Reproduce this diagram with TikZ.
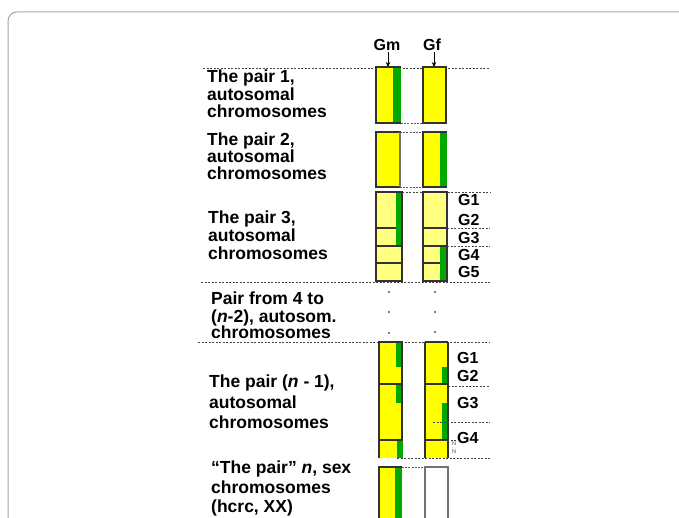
\documentclass[tikz,border=0pt]{standalone}
\usepackage{fontspec}
\setmainfont{Liberation Sans}
\usetikzlibrary{arrows.meta}
\definecolor{chy}{RGB}{255,255,0}
\definecolor{chpale}{RGB}{255,255,128}
\definecolor{chg}{RGB}{0,168,0}
\definecolor{outl}{RGB}{50,50,50}
\definecolor{frm}{RGB}{165,165,165}
\definecolor{sepc}{RGB}{70,70,70}
\begin{document}
\begin{tikzpicture}[x=1pt,y=-1pt,
  lbl/.style={anchor=base west,inner sep=0pt,font=\bfseries\fontsize{17.5}{17.5}\selectfont},
  glbl/.style={anchor=west,inner sep=0pt,font=\bfseries\fontsize{16}{16}\selectfont},
  hdr/.style={inner sep=0pt,font=\bfseries\fontsize{16}{16}\selectfont},
  sepline/.style={draw=sepc,line width=0.8pt,dash pattern=on 2pt off 1.5pt},
  outline/.style={draw=outl,line width=1.1pt},
  gapline/.style={draw=outl!80,line width=0.9pt,dash pattern=on 2pt off 1.2pt},
  emptybox/.style={draw=black!55,line width=1.1pt},
  dotmark/.style={fill=black,inner sep=0pt,minimum size=1.6pt,circle},
  tiny/.style={inner sep=0pt,font=\fontsize{5.5}{5.5}\selectfont,text=black!70}]
\useasboundingbox (0,0) rectangle (679,518);
\clip (0,0) rectangle (679,518);

% outer frame
\draw[frm,line width=1pt,rounded corners=9pt] (8,12) rectangle (730,570);

% separating dashed rules
\draw[sepline] (203,68) -- (490,68);
\draw[sepline] (402,192) -- (490,192);
\draw[sepline] (447,228) -- (490,228);
\draw[sepline] (447,246) -- (490,246);
\draw[sepline] (201,282) -- (490,282);
\draw[sepline] (198,342) -- (490,342);
\draw[sepline] (448,386) -- (490,386);

% column headers
\node[hdr] (gm) at (387,45) {Gm};
\node[hdr] (gf) at (432,45) {Gf};
\coordinate (gmtop) at (388,67);
\coordinate (gftop) at (434,67);
\draw[-{Stealth[length=5pt,width=4.5pt]},line width=0.7pt] (gm.south) ++(1,1) -- (gmtop);
\draw[-{Stealth[length=5pt,width=4.5pt]},line width=0.7pt] (gf.south) ++(2,1) -- (gftop);

% ---- pair 1 ----
\fill[chy] (376,67) rectangle (393,123);
\fill[chg] (393,67) rectangle (401,123);
\draw[outline] (401,67) -- (376,67) -- (376,123) -- (401,123);
\draw[gapline] (401,123) -- (423,123);
\fill[chy] (423,67) rectangle (446,123);
\draw[outline] (423,67) rectangle (446,123);
\node[lbl] (p1a) at (207,83) {The pair 1,};
\node[lbl] (p1b) at (207,101) {autosomal};
\node[lbl] (p1c) at (207,118) {chromosomes};

% ---- pair 2 ----
\fill[chy] (376,132) rectangle (400,187);
\draw[outline] (376,132) rectangle (400,187);
\draw[emptybox] (400,132) -- (400,187) (423,132) -- (423,187);
\draw[gapline] (400,132) -- (423,132) (400,187) -- (423,187);
\fill[chy] (423,132) rectangle (440,187);
\fill[chg] (440,132) rectangle (447,187);
\draw[outline] (447,132) -- (423,132) -- (423,187) -- (447,187);
\node[lbl] (p2a) at (207,146) {The pair 2,};
\node[lbl] (p2b) at (207,163) {autosomal};
\node[lbl] (p2c) at (207,180) {chromosomes};

% ---- pair 3 ----
\fill[chpale] (376,192) rectangle (402,281);
\fill[chg] (396,192) rectangle (402,246);
\draw[outline] (376,192) rectangle (402,281);
\draw[outline] (376,228) -- (396,228) (376,246) -- (402,246) (376,263) -- (402,263);
\fill[chpale] (423,192) rectangle (447,281);
\fill[chg] (440,246) rectangle (447,281);
\draw[outline] (423,192) rectangle (447,281);
\draw[outline] (423,228) -- (447,228) (423,246) -- (447,246) (423,263) -- (440,263);
\node[glbl] (g31) at (458,200) {G1};
\node[glbl] (g32) at (458,220) {G2};
\node[glbl] (g33) at (458,238) {G3};
\node[glbl] (g34) at (458,255) {G4};
\node[glbl] (g35) at (458,272) {G5};
\node[lbl] (p3a) at (208,224) {The pair 3,};
\node[lbl] (p3b) at (208,242) {autosomal};
\node[lbl] (p3c) at (208,260) {chromosomes};

% ---- pairs 4 to n-2 ----
\node[dotmark] (d1) at (389,292) {};
\node[dotmark] (d2) at (389,312) {};
\node[dotmark] (d3) at (389,333) {};
\node[dotmark] (d4) at (435,292) {};
\node[dotmark] (d5) at (435,312) {};
\node[dotmark] (d6) at (435,332) {};
\node[lbl] (p4a) at (211,305) {Pair from 4 to};
\node[lbl] (p4b) at (211,322) {(\textit{n}-2), autosom.};
\node[lbl] (p4c) at (211,338) {chromosomes};

% ---- pair n-1 ----
\fill[chy] (379,342) rectangle (402,458);
\fill[chg] (396,342) rectangle (402,367);
\fill[chg] (396,384) rectangle (402,403);
\fill[chg] (397,440) rectangle (403,458);
\draw[outline] (379,458) -- (379,342) -- (402,342) -- (402,440);
\draw[outline] (379,384) -- (402,384) (379,440) -- (403,440);
\fill[chy] (425,342) rectangle (448,458);
\fill[chg] (442,367) rectangle (448,384);
\fill[chg] (442,403) rectangle (448,440);
\draw[outline] (425,458) -- (425,342) (448,342) -- (448,458);
\draw[outl,line width=1.8pt] (425,342) -- (448,342);
\draw[outline] (425,384) -- (448,384) (425,440) -- (448,440);
\draw[sepline] (433,422) -- (490,422);
\draw[sepline] (440,440) -- (457,440);
\draw[sepline] (397,458) -- (490,458);
\node[glbl] (g41) at (457,358) {G1};
\node[glbl] (g42) at (457,376) {G2};
\node[glbl] (g43) at (457,403) {G3};
\node[glbl] (g44) at (457,438) {G4};
\node[tiny] (nn1) at (454,444) {N};
\node[tiny] (nn2) at (454,452) {N};
\node[lbl] (p5a) at (209,387) {The pair (\textit{n} - 1),};
\node[lbl] (p5b) at (209,408) {autosomal};
\node[lbl] (p5c) at (209,428) {chromosomes};

% ---- pair n (sex chromosomes) ----
\fill[chy] (379,467) rectangle (395,530);
\fill[chg] (395,467) rectangle (402,530);
\draw[outline] (379,530) -- (379,467) -- (402,467);
\draw[gapline] (402,467) -- (425,467);
\draw[emptybox] (425,530) -- (425,467) -- (448,467) -- (448,530);
\node[lbl] (p6a) at (211,473) {``The pair'' \textit{n}, sex};
\node[lbl] (p6b) at (211,493) {chromosomes};
\node[lbl] (p6c) at (211,512) {(hcrc, XX)};
\end{tikzpicture}
\end{document}
